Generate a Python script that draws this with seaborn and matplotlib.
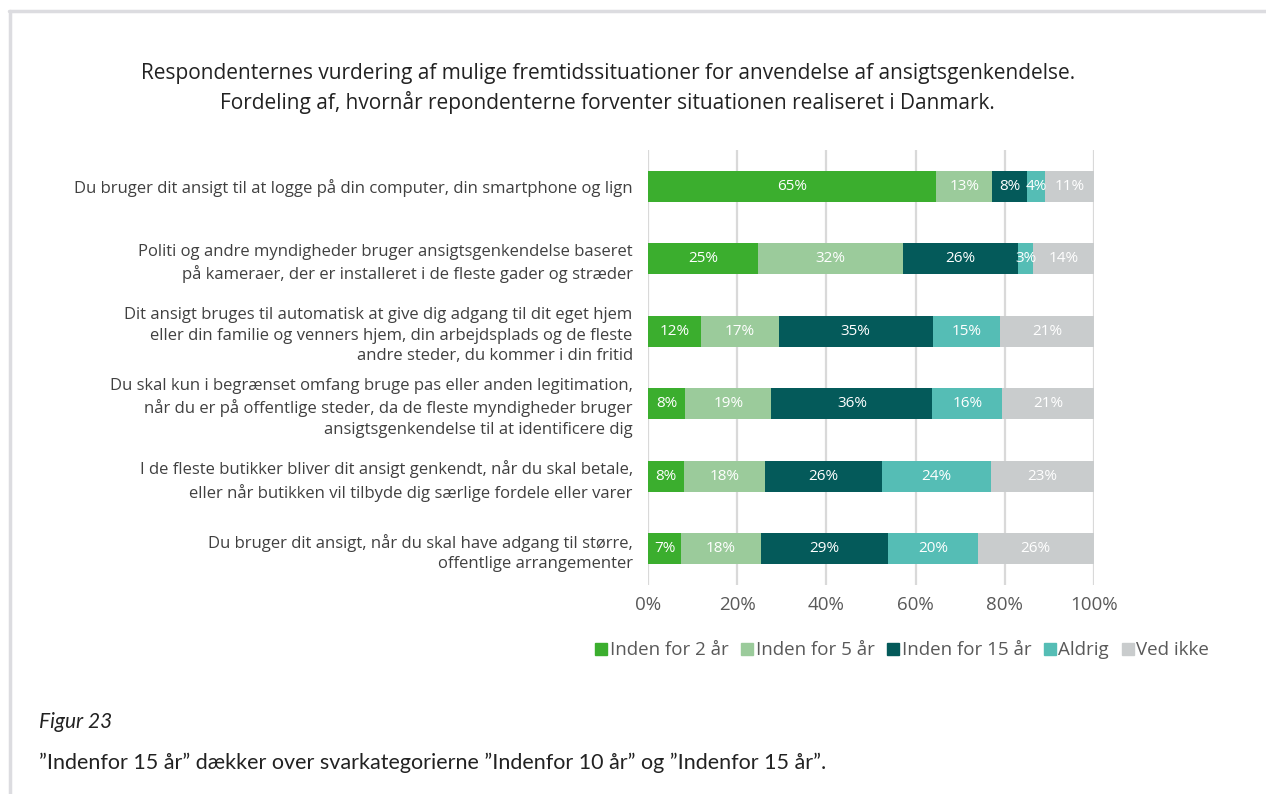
import numpy as np
import pandas as pd
import matplotlib
matplotlib.use("Agg")
import matplotlib.pyplot as plt
from matplotlib.lines import Line2D
import seaborn as sns

title = ("Respondenternes vurdering af mulige fremtidssituationer for anvendelse af ansigtsgenkendelse.\n"
         "Fordeling af, hvornår repondenterne forventer situationen realiseret i Danmark.")

situations = [
    "Du bruger dit ansigt til at logge på din computer, din smartphone og lign",
    "Politi og andre myndigheder bruger ansigtsgenkendelse baseret\npå kameraer, der er installeret i de fleste gader og stræder",
    "Dit ansigt bruges til automatisk at give dig adgang til dit eget hjem\neller din familie og venners hjem, din arbejdsplads og de fleste\nandre steder, du kommer i din fritid",
    "Du skal kun i begrænset omfang bruge pas eller anden legitimation,\nnår du er på offentlige steder, da de fleste myndigheder bruger\nansigtsgenkendelse til at identificere dig",
    "I de fleste butikker bliver dit ansigt genkendt, når du skal betale,\neller når butikken vil tilbyde dig særlige fordele eller varer",
    "Du bruger dit ansigt, når du skal have adgang til større,\noffentlige arrangementer",
]

answers = ["Inden for 2 år", "Inden for 5 år", "Inden for 15 år", "Aldrig", "Ved ikke"]

# shares in percent, one list per answer category
inden_2 = [64.6, 24.7, 11.9, 8.3, 8.1, 7.4]
inden_5 = [12.6, 32.4, 17.4, 19.4, 18.2, 17.9]
inden_15 = [7.9, 25.9, 34.6, 36.1, 26.2, 28.6]
aldrig = [4.0, 3.4, 15.0, 15.6, 24.4, 20.0]
ved_ikke = [10.9, 13.6, 21.1, 20.6, 23.1, 26.1]

colors = ["#3bae2e", "#9bcb9b", "#045a5a", "#55bdb5", "#c9cccd"]

footer_title = "Figur 23"
footer_text = "”Indenfor 15 år” dækker over svarkategorierne ”Indenfor 10 år” og ”Indenfor 15 år”."

df = pd.DataFrame({"situation": situations})
for name, vals in zip(answers, [inden_2, inden_5, inden_15, aldrig, ved_ikke]):
    df[name] = vals
cum = df[answers].cumsum(axis=1)

sns.set_style("white")
plt.rcParams["font.family"] = ["Open Sans", "DejaVu Sans"]

fig = plt.figure(figsize=(12.66, 7.94), dpi=100)
ax = fig.add_axes([0.5118, 0.2632, 0.3523, 0.5478])

# stacked bars: draw cumulative totals from the last category backwards
for name, col in reversed(list(zip(answers, colors))):
    sns.barplot(x=cum[name], y=df["situation"], orient="h", color=col,
                width=0.43, linewidth=0, saturation=1, ax=ax, zorder=3)

for i in range(len(df)):
    for name in answers:
        v = df.loc[i, name]
        ax.text(cum.loc[i, name] - v / 2, i, f"{v:.0f}%", ha="center", va="center",
                color="white", fontsize=11, zorder=4)

ax.set_xlim(0, 100)
ax.set_ylim(len(df) - 0.5, -0.5)
ax.set_xticks(np.arange(0, 101, 20))
ax.set_xticklabels([f"{t}%" for t in range(0, 101, 20)])
ax.grid(True, axis="x", color="#d9d9d9", linewidth=1.6, zorder=0)
ax.set_xlabel("")
ax.set_ylabel("")
for s in ax.spines.values():
    s.set_visible(False)
ax.tick_params(axis="x", length=0, labelsize=13.5, labelcolor="#595959", pad=8)
ax.tick_params(axis="y", length=0, labelsize=12, labelcolor="#404040", pad=11)
for lab in ax.get_yticklabels():
    lab.set_linespacing(1.38)

handles = [Line2D([0], [0], marker="s", linestyle="", markersize=8.5,
                  markerfacecolor=c, markeredgecolor=c) for c in colors]
leg = fig.legend(handles, answers, loc="center", bbox_to_anchor=(0.712, 0.181), ncol=5,
                 frameon=False, fontsize=13.5, handletextpad=0.05, columnspacing=0.6,
                 handlelength=0.8)
for t in leg.get_texts():
    t.set_color("#595959")

fig.text(0.48, 0.889, title, ha="center", va="center", fontsize=15, color="#222222",
         linespacing=1.4)
fig.text(0.031, 0.091, footer_title, ha="left", va="center", fontsize=15,
         style="italic", color="#222222", family=["Lato", "DejaVu Sans"])
fig.text(0.031, 0.039, footer_text, ha="left", va="center", fontsize=15.5,
         color="#222222", family=["Lato", "DejaVu Sans"])

# light frame on the top and left edges
fig.add_artist(Line2D([0.0075, 1.0], [0.986, 0.986], color="#dcdce0", linewidth=2.5))
fig.add_artist(Line2D([0.0079, 0.0079], [0.0, 0.986], color="#dcdce0", linewidth=2.5))

fig.savefig("out.png", dpi=100)
